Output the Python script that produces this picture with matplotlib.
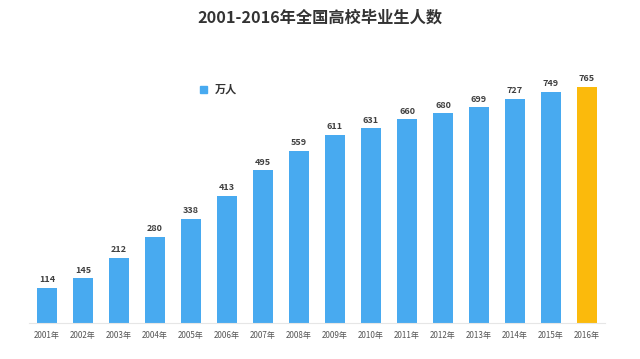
import matplotlib
matplotlib.use("Agg")
import matplotlib.pyplot as plt
from matplotlib.patches import Rectangle

plt.rcParams['font.family'] = ['Noto Sans CJK SC', 'DejaVu Sans']

years = [f"{y}年" for y in range(2001, 2017)]
values = [114, 145, 212, 280, 338, 413, 495, 559, 611, 631, 660, 680, 699, 727, 749, 765]
legend_label = "万人"
title = "2001-2016年全国高校毕业生人数"

blue = "#48AAF0"
gold = "#FBBA0C"
colors = [blue] * (len(values) - 1) + [gold]

fig = plt.figure(figsize=(6.4, 3.59), dpi=100)
fig.patch.set_facecolor("white")
ax = fig.add_axes([29/640, 36/359, 576/640, 246.8/359])

x = list(range(len(values)))
ax.bar(x, values, width=0.56, color=colors, zorder=2)
for xi, v in zip(x, values):
    ax.text(xi, v + 12, str(v), ha='center', va='bottom', fontsize=6.5,
            color='#404040', fontweight='bold')

ax.set_xlim(-0.5, len(values) - 0.5)
ax.set_ylim(0, 800)
ax.set_xticks(x)
ax.set_xticklabels(years, fontsize=5.8, color='#555555')
ax.tick_params(axis='x', length=0, pad=6)
ax.set_yticks([])
for s in ['top', 'right', 'left']:
    ax.spines[s].set_visible(False)
ax.spines['bottom'].set_color('#E6E6E6')
ax.spines['bottom'].set_linewidth(0.8)

# legend
fig.patches.append(Rectangle((200/640, (359-93)/359), 7/640, 7/359,
                             transform=fig.transFigure, color=blue))
fig.text(215/640, (359-89.5)/359, legend_label, fontsize=8, fontweight='bold',
         color='#333333', va='center', ha='left')

fig.text(0.5, (359-18)/359, title, ha='center', va='center', fontsize=11.7,
         fontweight='bold', color='#333333')

fig.savefig("out.png", dpi=100)
